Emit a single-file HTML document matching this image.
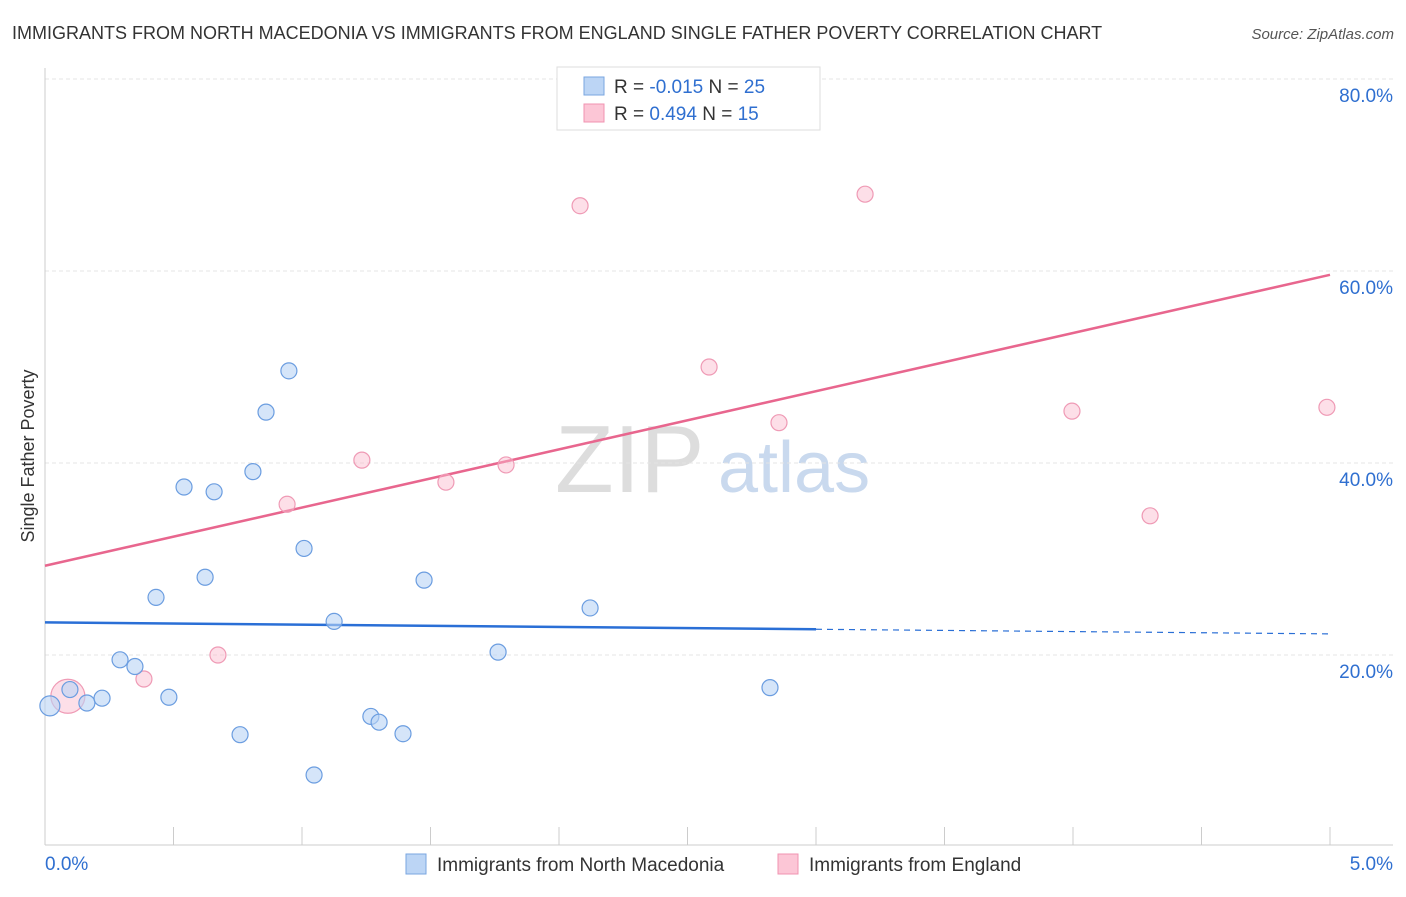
<!DOCTYPE html>
<html><head><meta charset="utf-8"><style>
body{margin:0;background:#fff;font-family:"Liberation Sans",sans-serif;}
svg text{font-family:"Liberation Sans",sans-serif;}
</style></head><body>
<svg id="c" width="1406" height="892">
<text x="12" y="39" font-size="18" fill="#333">IMMIGRANTS FROM NORTH MACEDONIA VS IMMIGRANTS FROM ENGLAND SINGLE FATHER POVERTY CORRELATION CHART</text>
<text x="1394" y="39" font-size="15" fill="#555" font-style="italic" text-anchor="end">Source: ZipAtlas.com</text>
<text x="34" y="456" font-size="18" fill="#333" transform="rotate(-90 34 456)" text-anchor="middle">Single Father Poverty</text>
<text x="555" y="492" font-size="96" fill="#ddd" font-family="Liberation Serif">ZIP</text>
<text x="718" y="492" font-size="72" fill="#c9d9ee">atlas</text>
<g id="grid"></g><g id="trend"></g><g id="pts"></g>
<g>
<rect x="557" y="67" width="263" height="63" fill="#fff" stroke="#ddd"/>
<rect x="584" y="77" width="20" height="18" fill="#bcd5f5" stroke="#7aa6e0"/>
<rect x="584" y="104" width="20" height="18" fill="#fcc6d6" stroke="#f093b0"/>
<text x="614" y="93" font-size="19" fill="#333">R = <tspan fill="#2f6fd0">-0.015</tspan>   N = <tspan fill="#2f6fd0">25</tspan></text>
<text x="614" y="120" font-size="19" fill="#333">R =  <tspan fill="#2f6fd0">0.494</tspan>   N =  <tspan fill="#2f6fd0">15</tspan></text>
</g>
<g>
<rect x="406" y="854" width="20" height="20" fill="#bcd5f5" stroke="#7aa6e0"/>
<text x="437" y="871" font-size="19" fill="#333">Immigrants from North Macedonia</text>
<rect x="778" y="854" width="20" height="20" fill="#fcc6d6" stroke="#f093b0"/>
<text x="809" y="871" font-size="19" fill="#333">Immigrants from England</text>
</g>
</svg>
<script>
const blueX=[0.019,0.097,0.163,0.222,0.292,0.350,0.432,0.482,0.541,0.623,0.658,0.759,0.809,0.860,0.949,1.008,1.047,1.125,1.268,1.300,1.393,1.475,1.763,2.121,2.821];
const blueY=[14.7,16.4,15.0,15.5,19.5,18.8,26.0,15.6,37.5,28.1,37.0,11.7,39.1,45.3,49.6,31.1,7.5,23.5,13.6,13.0,11.8,27.8,20.3,24.9,16.6];
const pinkX=[0.089,0.385,0.673,0.942,1.233,1.560,1.794,2.082,2.377,2.584,2.856,3.191,3.996,4.300,4.988];
const pinkY=[15.7,17.5,20.0,35.7,40.3,38.0,39.8,66.8,77.3,50.0,44.2,68.0,45.4,34.5,45.8];
const yTicks=[20,40,60,80];
const xTickLabels=["0.0%","5.0%"];
const blueTrend=[23.4,22.2];
const pinkTrend=[29.3,59.6];
const NS="http://www.w3.org/2000/svg";
const sx=v=>45+v*257, sy=v=>847-v*9.6;
function mk(t,a,p){const e=document.createElementNS(NS,t);for(const k in a)e.setAttribute(k,a[k]);p.appendChild(e);return e;}
const grid=document.getElementById('grid'),trend=document.getElementById('trend'),pts=document.getElementById('pts'),svg=document.getElementById('c');
yTicks.forEach(t=>{
 const l=mk('line',{x1:45,x2:1393,y1:sy(t),y2:sy(t),stroke:'#e4e4e4','stroke-dasharray':'4,3'},grid);
 
 
 const tx=mk('text',{x:1393,y:sy(t)+23,'font-size':19,fill:'#2f6fd0','text-anchor':'end'},grid);
 tx.textContent=t.toFixed(1)+'%';
 
 
});
const ax=mk('line',{x1:45,x2:1393,y1:845,y2:845,stroke:'#ccc'},grid);


const ay=mk('line',{x1:45,x2:45,y1:68,y2:845,stroke:'#ccc'},grid);


for(let i=0;i<=10;i++){
 const tk=mk('line',{x1:sx(i*0.5),x2:sx(i*0.5),y1:827,y2:845,stroke:'#ccc'},grid);
 
 
}
xTickLabels.forEach((s,i)=>{
 const tx=mk('text',{x:i?1393:45,y:870,'font-size':19,fill:'#2f6fd0','text-anchor':i?'end':'start'},grid);
 tx.textContent=s;
 
 
});
const bm=blueTrend[0]+(blueTrend[1]-blueTrend[0])*3/5;
const bt=mk('line',{x1:sx(0),y1:sy(blueTrend[0]),x2:sx(3),y2:sy(bm),stroke:'#2a6fd6','stroke-width':2.5},trend);


const bd=mk('line',{x1:sx(3),y1:sy(bm),x2:sx(5),y2:sy(blueTrend[1]),stroke:'#2a6fd6','stroke-width':1.2,'stroke-dasharray':'6,5'},trend);


const pt=mk('line',{x1:sx(0),y1:sy(pinkTrend[0]),x2:sx(5),y2:sy(pinkTrend[1]),stroke:'#e8668e','stroke-width':2.5},trend);


pinkX.forEach((x,i)=>{
 const c=mk('circle',{cx:sx(x),cy:sy(pinkY[i]),r:i==0?17:8,fill:'rgba(250,185,205,0.45)',stroke:'#ef9ab5','stroke-width':1.2},pts);
 
 
});
blueX.forEach((x,i)=>{
 const c=mk('circle',{cx:sx(x),cy:sy(blueY[i]),r:i==0?10:8,fill:'rgba(185,212,245,0.6)',stroke:'#6b9de0','stroke-width':1.2},pts);
 
 
});
</script>
</body></html>
